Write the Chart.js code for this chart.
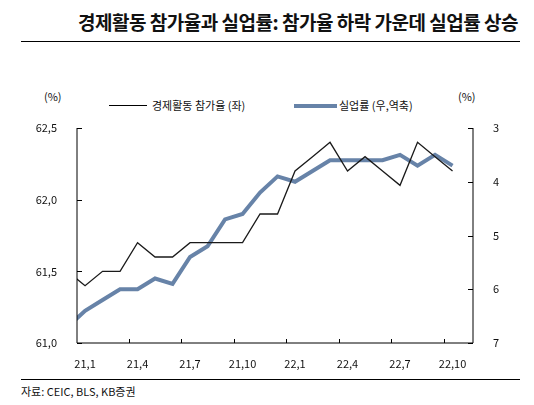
<!DOCTYPE html>
<html><head><meta charset="utf-8">
<script src="https://cdn.jsdelivr.net/npm/chart.js@4"></script>
<style>
body{margin:0;width:534px;height:405px;position:relative;background:#fff;font-family:"Noto Sans CJK KR","Noto Sans",sans-serif;overflow:hidden}
.a{position:absolute;white-space:nowrap;color:#111}
</style></head><body>
<div class="a" style="right:16px;top:8px;font-size:19px;font-weight:bold;letter-spacing:-0.5px">경제활동 참가율과 실업률: 참가율 하락 가운데 실업률 상승</div>
<div class="a" style="left:21px;top:41px;width:499px;border-top:1px solid #000"></div>
<div class="a" style="left:44px;top:88px;font-size:11px">(%)</div>
<div class="a" style="left:458px;top:88px;font-size:11px">(%)</div>
<div class="a" style="left:109px;top:105px;width:38px;border-top:1.5px solid #000"></div>
<div class="a" style="left:152px;top:97px;font-size:11px">경제활동 참가율 (좌)</div>
<div class="a" style="left:294px;top:104px;width:43px;border-top:4px solid #6783a8"></div>
<div class="a" style="left:339px;top:97px;font-size:11px">실업률 (우,역축)</div>
<div class="a" style="left:21px;top:379px;width:499px;border-top:1px solid #000"></div>
<div class="a" style="left:21px;top:383px;font-size:11px">자료: CEIC, BLS, KB증권</div>
<div style="position:absolute;left:0;top:60px;width:534px;height:312px"><canvas id="c"></canvas></div>
<script>
const months=["20,12","21,1","21,2","21,3","21,4","21,5","21,6","21,7","21,8","21,9","21,10","21,11","21,12","22,1","22,2","22,3","22,4","22,5","22,6","22,7","22,8","22,9","22,10"];
const participation=[61.5,61.4,61.5,61.5,61.7,61.6,61.6,61.7,61.7,61.7,61.7,61.9,61.9,62.2,62.3,62.4,62.2,62.3,62.2,62.1,62.4,62.3,62.2];
const unemployment=[6.7,6.4,6.2,6.0,6.0,5.8,5.9,5.4,5.2,4.7,4.6,4.2,3.9,4.0,3.8,3.6,3.6,3.6,3.6,3.5,3.7,3.5,3.7];
const leftTicks=[61.0,61.5,62.0,62.5];
const rightTicks=[3,4,5,6,7];
const labelIdx=[1,4,7,10,13,16,19,22];
const fmt=v=>v.toFixed(1).replace('.',',');
const tickPlugin={id:'tm',afterDraw(ch){const c=ch.ctx,a=ch.chartArea,x=ch.scales.x,y=ch.scales.y,y2=ch.scales.y2;
c.save();c.strokeStyle='#000';c.lineWidth=1;c.beginPath();
c.moveTo(a.left,a.top);c.lineTo(a.left,a.bottom);c.lineTo(a.right,a.bottom);c.lineTo(a.right,a.top);
leftTicks.forEach(v=>{const p=Math.round(y.getPixelForValue(v))+.5;c.moveTo(a.left,p);c.lineTo(a.left+5,p);});
rightTicks.forEach(v=>{const p=Math.round(y2.getPixelForValue(v))+.5;c.moveTo(a.right,p);c.lineTo(a.right-5,p);});
for(let k=3.5;k<23;k+=3){const p=Math.round(x.getPixelForValue(k))+.5;c.moveTo(p,a.bottom);c.lineTo(p,a.bottom-4);}
c.stroke();c.restore();}};
new Chart(document.getElementById('c'),{type:'line',
data:{datasets:[
{data:participation.map((v,i)=>({x:i,y:v})),borderColor:'#1a1a1a',borderWidth:1.3,pointRadius:0,yAxisID:'y',tension:0},
{data:unemployment.map((v,i)=>({x:i,y:v})),borderColor:'#6783a8',borderWidth:4,pointRadius:0,yAxisID:'y2',tension:0}]},
options:{responsive:true,maintainAspectRatio:false,animation:false,
layout:{padding:{top:68,left:0,right:0,bottom:0}},
plugins:{legend:{display:false},tooltip:{enabled:false}},
scales:{
x:{type:'linear',min:0.54,max:23.17,afterBuildTicks:s=>{s.ticks=labelIdx.map(v=>({value:v}));},
 afterFit:s=>{s.height=29;},
 grid:{display:false},border:{display:false},
 ticks:{callback:v=>months[v],color:'#111',font:{size:11,family:'Noto Sans CJK KR'},maxRotation:0,autoSkip:false,padding:6}},
y:{min:61,max:62.5,position:'left',afterBuildTicks:s=>{s.ticks=leftTicks.map(v=>({value:v}));},
 afterFit:s=>{s.width=77;},grid:{display:false},border:{display:false},
 ticks:{callback:v=>fmt(v),color:'#111',font:{size:11,family:'Noto Sans CJK KR'},padding:12}},
y2:{min:3,max:7,reverse:true,position:'right',afterBuildTicks:s=>{s.ticks=rightTicks.map(v=>({value:v}));},
 afterFit:s=>{s.width=61;},grid:{display:false},border:{display:false},
 ticks:{color:'#111',font:{size:11,family:'Noto Sans CJK KR'},padding:12}}}},
plugins:[tickPlugin]});
</script></body></html>
